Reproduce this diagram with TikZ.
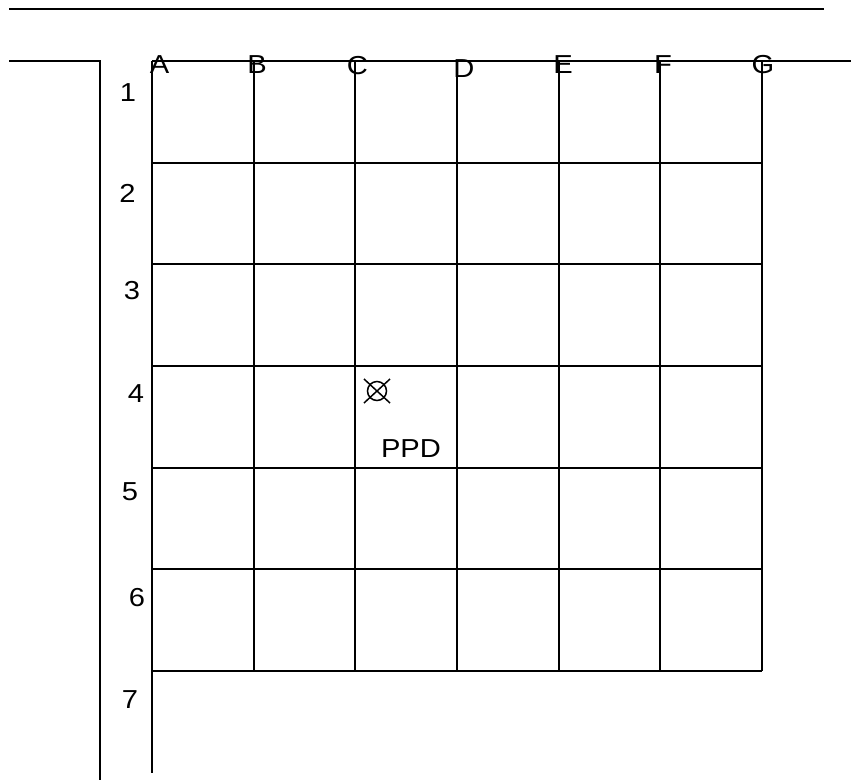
\documentclass[tikz,border=0pt]{standalone}
\usepackage{fontspec}
\setmainfont{Liberation Sans}[FakeStretch=1.12]
\usetikzlibrary{calc}

\begin{document}
\begin{tikzpicture}[x=1pt, y=-1pt, line width=2pt,
  every node/.style={inner sep=0pt, font=\fontsize{26}{30}\selectfont},
  valvemark/.style={circle, draw, line width=1.5pt, minimum size=19pt}]
			\useasboundingbox (0,0) rectangle (851,780);
			% frame
			\coordinate (r1) at (9,9);
			\coordinate (r2) at (824,9);
			\coordinate (l1) at (9,61);
			\coordinate (l2) at (100,61);
			\coordinate (l3) at (100,780);
			\coordinate (t1) at (152,61);
			\coordinate (t2) at (851,61);
			\coordinate (a7) at (152,773);
			\draw (r1)--(r2);
			\draw (l1)--(l2)--(l3);
			\draw (t1)--(t2);
			\draw (t1)--(a7);
			
			% grid
			\foreach \i in {1,...,6}
				\draw (152+101.67*\i,61)--(152+101.67*\i,671);
			\foreach \j in {1,...,6}
				\draw (152,61+101.67*\j)--(762,61+101.67*\j);
			
			% labels
			\node (cA) at (159.5,65) {A};
			\node (cB) at (257,65) {B};
			\node (cC) at (357.5,66) {C};
			\node (cD) at (464,69) {D};
			\node (cE) at (563,65) {E};
			\node (cF) at (663,65) {F};
			\node (cG) at (763,65) {G};
			\node (r1n) at (128,93) {1};
			\node (r2n) at (127.5,193) {2};
			\node (r3n) at (132,291) {3};
			\node (r4n) at (136,394) {4};
			\node (r5n) at (130,492) {5};
			\node (r6n) at (137,598) {6};
			\node (r7n) at (130,700) {7};
			
			% marker
			\node[valvemark] (ppd) at (377,391) {};
			\draw[line width=1.5pt] ($(ppd)+(-13,-12)$)--($(ppd)+(13,12)$);
			\draw[line width=1.5pt] ($(ppd)+(-13,12)$)--($(ppd)+(13,-12)$);
			\node (ppdl) at (411,448.5) {PPD};
		\end{tikzpicture}
\end{document}
